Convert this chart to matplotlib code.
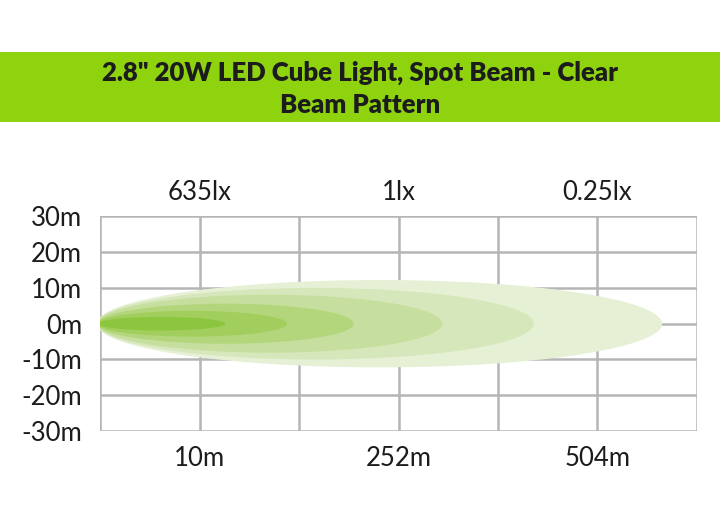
import matplotlib

matplotlib.use("Agg")
import matplotlib.pyplot as plt
from matplotlib.patches import Ellipse, Rectangle

# beam contours, largest first (reach in grid columns, half width in metres)
beam_reach = [5.68, 4.39, 3.47, 2.58, 1.91, 1.29]
beam_half_width = [12.2, 10.0, 8.1, 5.6, 3.6, 1.9]
beam_colors = ["#e6f0d5", "#d6e7bb", "#c7df9e", "#b3d67d", "#a1ce5c", "#8cc63f"]

y_ticks = [30, 20, 10, 0, -10, -20, -30]
y_labels = ["30m", "20m", "10m", "0m", "-10m", "-20m", "-30m"]
x_grid = [0, 1, 2, 3, 4, 5, 6]
lux_pos = [1, 3, 5]
lux_labels = ["635lx", "1lx", "0.25lx"]
dist_pos = [1, 3, 5]
dist_labels = ["10m", "252m", "504m"]

title = '2.8" 20W LED Cube Light, Spot Beam - Clear\nBeam Pattern'

plt.rcParams["font.family"] = ["Lato", "DejaVu Sans"]

fig = plt.figure(figsize=(7.2, 5.2), dpi=100)
fig.patches.append(Rectangle((0, 0.765), 1, 0.135, transform=fig.transFigure,
                             facecolor="#8fd30f", edgecolor="none", zorder=0))
fig.text(0.5, 0.830, title, ha="center", va="center", fontsize=18.5,
         fontweight="heavy", color="#1c1c1c", linespacing=1.4)

ax = fig.add_axes([0.139, 0.171, 0.829, 0.413])
ax.set_xlim(0, 6)
ax.set_ylim(-30, 30)

grid_color = "#b5b5b5"
for x in x_grid:
    ax.axvline(x, color=grid_color, lw=1.8, zorder=1)
for y in y_ticks:
    ax.axhline(y, color=grid_color, lw=1.8, zorder=1)

x0 = -0.03
for reach, half, col in zip(beam_reach, beam_half_width, beam_colors):
    e = Ellipse((x0 + reach / 2, 0), reach, 2 * half, facecolor=col,
                edgecolor="none", zorder=2)
    ax.add_patch(e)

for s in ax.spines.values():
    s.set_visible(False)

ax.set_yticks(y_ticks)
ax.set_yticklabels(y_labels)
ax.set_xticks(dist_pos)
ax.set_xticklabels(dist_labels)
ax.tick_params(length=0, labelsize=18.5, colors="#1c1c1c")
ax.tick_params(axis="y", pad=13)
ax.tick_params(axis="x", pad=11)

top = ax.secondary_xaxis("top")
top.set_xticks(lux_pos)
top.set_xticklabels(lux_labels)
top.tick_params(length=0, labelsize=18.5, colors="#1c1c1c", pad=8)
for s in top.spines.values():
    s.set_visible(False)

fig.savefig("out.png", dpi=100)
